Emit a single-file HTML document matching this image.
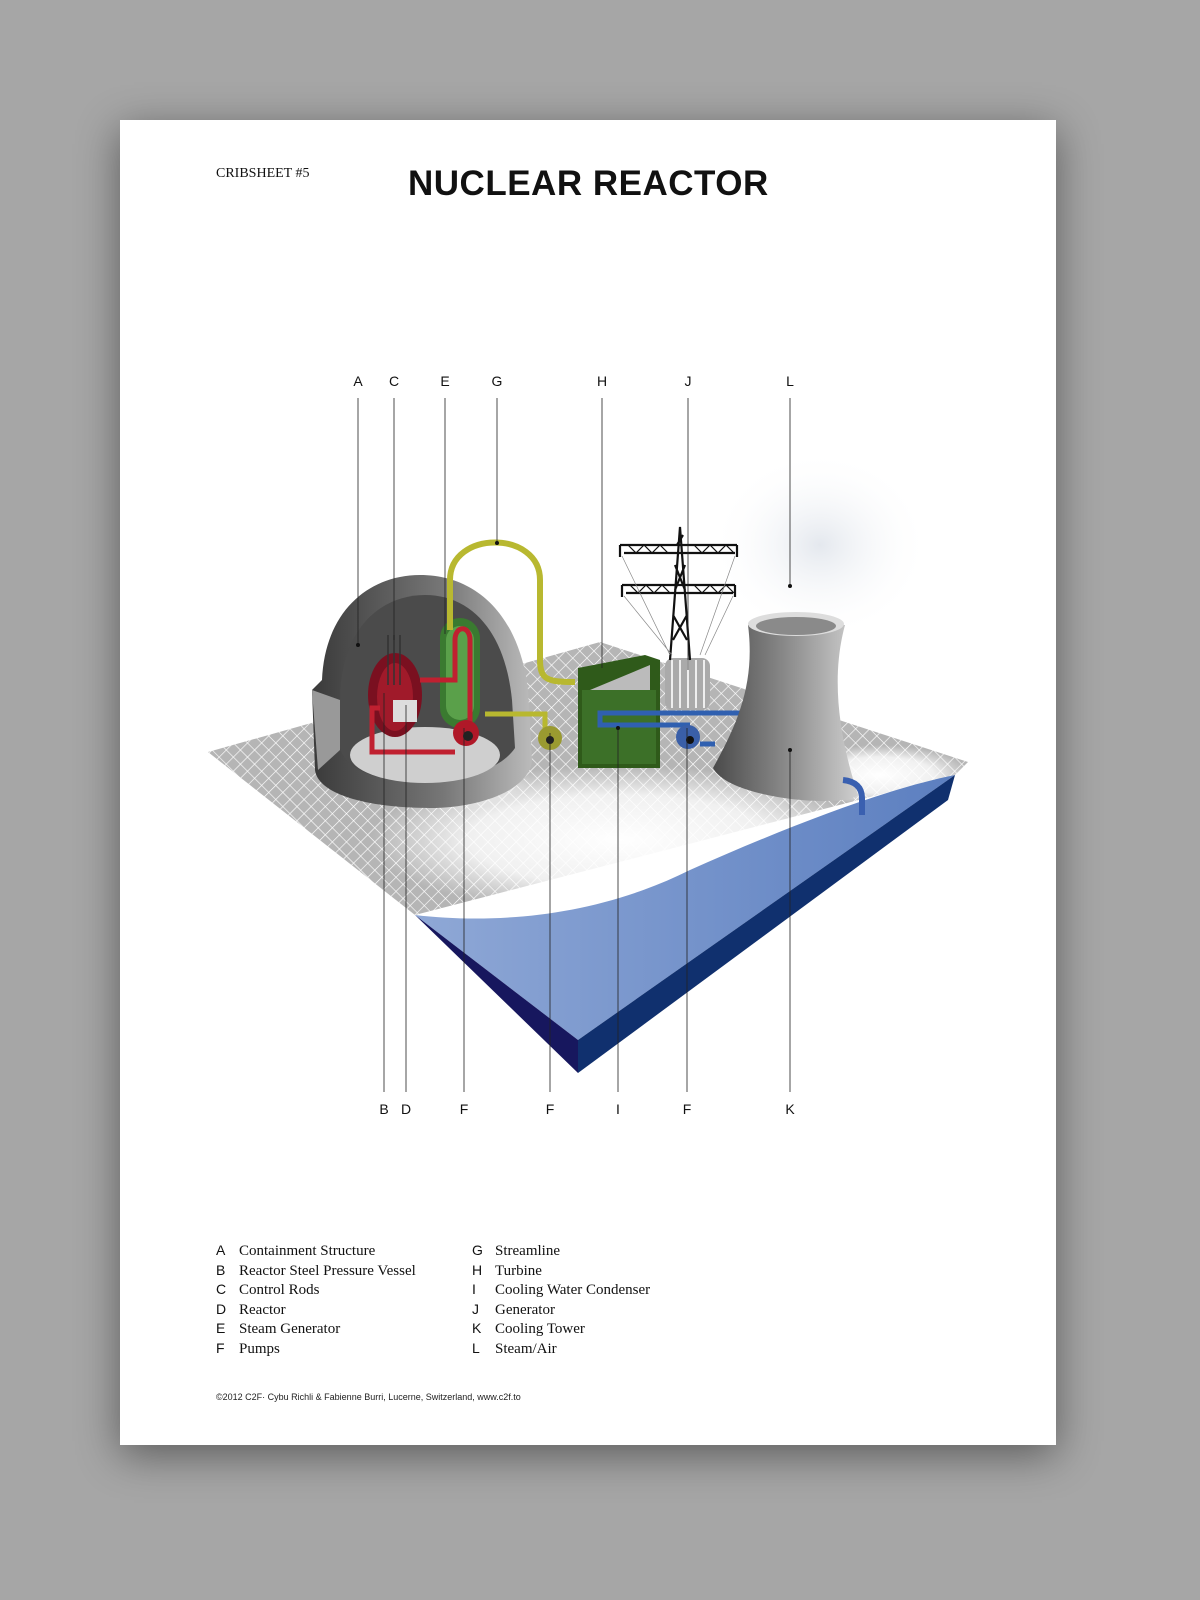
<!DOCTYPE html>
<html><head><meta charset="utf-8"><style>
body{margin:0;width:1200px;height:1600px;background:#a6a6a6;overflow:hidden;position:relative;font-family:"Liberation Sans",sans-serif}
.card{position:absolute;left:120px;top:120px;width:936px;height:1325px;background:#fff;box-shadow:0 10px 40px rgba(0,0,0,.45)}
.t{position:absolute;white-space:nowrap}
.ser{font-family:"Liberation Serif",serif}
.leg{position:absolute;top:1242px}
.row{height:19.6px;display:flex;align-items:baseline;color:#111}
.row b{font-weight:normal;font-size:14px;width:23px;font-family:"Liberation Sans",sans-serif}
.row span{font-family:"Liberation Serif",serif;font-size:15px}
</style></head><body>
<div class="card"></div>
<div class="t ser" style="left:216px;top:166px;font-size:14px;color:#111">CRIBSHEET #5</div>
<div class="t" style="left:408px;top:164px;font-size:35px;font-weight:bold;letter-spacing:0.5px;color:#111">NUCLEAR REACTOR</div>

<svg style="position:absolute;left:0;top:0" width="1200" height="1600" viewBox="0 0 1200 1600">
<defs>
<pattern id="grid" width="10" height="10" patternUnits="userSpaceOnUse" patternTransform="rotate(45)">
<rect width="10" height="10" fill="#b5b5b5"/><path d="M0 0H10M0 0V10" stroke="#fff" stroke-width="1.3"/></pattern>
<radialGradient id="fog" cx="50%" cy="50%" r="50%"><stop offset="0" stop-color="#fff" stop-opacity="1"/><stop offset=".6" stop-color="#fff" stop-opacity=".8"/><stop offset="1" stop-color="#fff" stop-opacity="0"/></radialGradient>
<radialGradient id="steam" cx="50%" cy="50%" r="50%"><stop offset="0" stop-color="#e4e8ee"/><stop offset="1" stop-color="#fff" stop-opacity="0"/></radialGradient>
<linearGradient id="tower" x1="0" x2="1"><stop offset="0" stop-color="#4a4a4a"/><stop offset=".5" stop-color="#8a8a8a"/><stop offset="1" stop-color="#cfcfcf"/></linearGradient>
<linearGradient id="dome" x1="0" x2="1"><stop offset="0" stop-color="#3a3a3a"/><stop offset=".6" stop-color="#777"/><stop offset="1" stop-color="#bbb"/></linearGradient>
<linearGradient id="water" x1="0" y1="0" x2="1" y2="0"><stop offset="0" stop-color="#8fa8d6"/><stop offset="1" stop-color="#5c7fc0"/></linearGradient>
</defs>
<ellipse cx="820" cy="545" rx="110" ry="95" fill="url(#steam)"/>
<polygon points="208,752 600,642 968,762 955,775 415,915" fill="url(#grid)"/>
<ellipse cx="620" cy="840" rx="250" ry="75" fill="url(#fog)"/>
<ellipse cx="880" cy="775" rx="90" ry="30" fill="url(#fog)"/>
<ellipse cx="450" cy="780" rx="80" ry="30" fill="url(#fog)" opacity=".6"/>
<path d="M415,915 C500,925 600,915 690,870 C780,830 880,790 955,775 L578,1040 Z" fill="url(#water)"/>
<polygon points="415,915 578,1040 578,1073" fill="#17175e"/>
<polygon points="578,1040 955,775 948,800 578,1073" fill="#10306e"/>
<!-- containment -->
<path d="M312,690 L322,680 C325,610 370,575 420,575 C480,575 520,620 528,690 L532,760 C530,790 480,808 430,808 C370,808 318,795 315,770 Z" fill="url(#dome)"/>
<path d="M340,700 C340,630 380,595 425,595 C470,595 505,630 512,700 L515,748 C500,770 460,782 420,782 C380,782 345,770 340,748 Z" fill="#4b4b4b"/>
<ellipse cx="425" cy="755" rx="75" ry="28" fill="#cfcfcf"/>
<path d="M312,690 L340,700 L340,750 L318,770 Z" fill="#999"/>
<ellipse cx="395" cy="695" rx="27" ry="42" fill="#7a1020"/>
<ellipse cx="395" cy="697" rx="18" ry="34" fill="#a01a2a"/>
<rect x="393" y="700" width="24" height="22" fill="#ddd"/>
<path d="M388,635v50M394,635v50M400,635v50" stroke="#333" stroke-width="1.5"/>
<rect x="440" y="618" width="40" height="110" rx="20" fill="#3a7a30"/>
<rect x="446" y="626" width="28" height="94" rx="14" fill="#5aa04a"/>
<path d="M420,680 H455 V640 C455,625 470,625 470,640 V725 M455,752 H372 V708 H380" fill="none" stroke="#c02030" stroke-width="5"/>
<circle cx="466" cy="733" r="13" fill="#b01828"/><circle cx="468" cy="736" r="5" fill="#222"/>
<path d="M450,630 V580 C450,530 540,530 540,580 V660 C540,680 548,682 575,682" fill="none" stroke="#b8b830" stroke-width="6"/>
<path d="M485,714 H545 V735" fill="none" stroke="#b8b830" stroke-width="5"/>
<circle cx="550" cy="738" r="12" fill="#9a9a30"/><circle cx="550" cy="740" r="4" fill="#222"/>
<polygon points="578,668 645,655 660,660 660,768 578,768" fill="#2f5a1a"/>
<rect x="582" y="690" width="74" height="74" fill="#3c7028"/>
<path d="M590,690 L650,665 L650,690" fill="#bbb"/>
<path d="M740,713 H600 V725 H690" fill="none" stroke="#3060b0" stroke-width="5"/>
<circle cx="688" cy="737" r="12" fill="#3a5fa8"/><circle cx="690" cy="740" r="4" fill="#111"/>
<path d="M700,744 H715" stroke="#3060b0" stroke-width="5"/>
<rect x="665" y="658" width="45" height="52" rx="8" fill="#aaa"/>
<path d="M672,660v48M680,660v48M688,660v48M696,660v48M704,660v48" stroke="#eee" stroke-width="2"/>
<!-- pylon -->
<g stroke="#111" stroke-width="2.2" fill="none">
<path d="M670,660 L680,527 L690,660 M673,640 L687,615 M673,615 L687,640 M675,590 L685,565 M675,565 L685,590 M677,545 L683,535"/>
<path d="M620,545 H737 M624,553 H735 M622,585 H735 M626,593 H733"/>
<path d="M620,545v12M737,545v12M622,585v12M735,585v12"/>
<path d="M628,545 l8,8 l8,-8 l8,8 l8,-8 l8,8 M694,545 l8,8 l8,-8 l8,8 l8,-8 l8,8 M630,585 l8,8 l8,-8 l8,8 l8,-8 l8,8 M694,585 l8,8 l8,-8 l8,8 l8,-8 l8,8" stroke-width="1.2"/>
</g>
<g stroke="#888" stroke-width=".7"><path d="M622,556 L670,655 M735,556 L700,655 M624,596 L672,655 M733,596 L705,655"/></g>
<path d="M748,625 C755,680 740,720 713,768 C730,800 845,808 858,795 C840,740 830,680 845,625 Z" fill="url(#tower)"/>
<ellipse cx="796" cy="624" rx="48" ry="12" fill="#ddd"/><ellipse cx="796" cy="626" rx="40" ry="9" fill="#8a8a8a"/>
<path d="M843,780 Q862,782 862,798 V815" fill="none" stroke="#3a60b0" stroke-width="6"/>
<g stroke="#222" stroke-width="0.8">
<path d="M358,398V645M394,398V640M445,398V634M497,398V543M602,398V668M688,398V670M790,398V586"/>
<path d="M384,1092V693M406,1092V705M464,1092V728M550,1092V733M618,1092V728M687,1092V728M790,1092V750"/>
</g>
<g fill="#111"><circle cx="358" cy="645" r="2"/><circle cx="497" cy="543" r="2"/><circle cx="790" cy="586" r="2"/><circle cx="790" cy="750" r="2"/><circle cx="618" cy="728" r="2"/></g>
<g font-family="Liberation Sans, sans-serif" font-size="14" fill="#111" text-anchor="middle">
<text x="358" y="386">A</text><text x="394" y="386">C</text><text x="445" y="386">E</text><text x="497" y="386">G</text><text x="602" y="386">H</text><text x="688" y="386">J</text><text x="790" y="386">L</text>
<text x="384" y="1114">B</text><text x="406" y="1114">D</text><text x="464" y="1114">F</text><text x="550" y="1114">F</text><text x="618" y="1114">I</text><text x="687" y="1114">F</text><text x="790" y="1114">K</text>
</g>
</svg>

<div class="leg" style="left:216px">
<div class="row"><b>A</b><span>Containment Structure</span></div>
<div class="row"><b>B</b><span>Reactor Steel Pressure Vessel</span></div>
<div class="row"><b>C</b><span>Control Rods</span></div>
<div class="row"><b>D</b><span>Reactor</span></div>
<div class="row"><b>E</b><span>Steam Generator</span></div>
<div class="row"><b>F</b><span>Pumps</span></div>
</div>
<div class="leg" style="left:472px">
<div class="row"><b>G</b><span>Streamline</span></div>
<div class="row"><b>H</b><span>Turbine</span></div>
<div class="row"><b>I</b><span>Cooling Water Condenser</span></div>
<div class="row"><b>J</b><span>Generator</span></div>
<div class="row"><b>K</b><span>Cooling Tower</span></div>
<div class="row"><b>L</b><span>Steam/Air</span></div>
</div>
<div class="t" style="left:216px;top:1392px;font-size:9px;color:#222">©2012 C2F· Cybu Richli &amp; Fabienne Burri, Lucerne, Switzerland, www.c2f.to</div>
</body></html>
